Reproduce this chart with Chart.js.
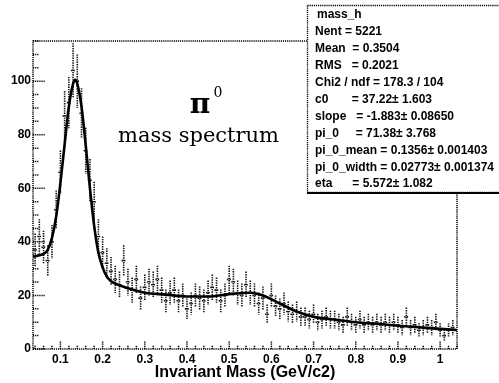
<!DOCTYPE html>
<html>
<head>
<script src="https://cdn.jsdelivr.net/npm/chart.js@4/dist/chart.umd.min.js"></script>
<style>
  html, body { margin: 0; padding: 0; background: #fff; }
  #wrap { width: 499px; height: 383px; }
</style>
</head>
<body>
<div id="wrap"><canvas id="c" width="499" height="383"></canvas></div>
<script>
// histogram bins (centre of each 0.01 bin) and their contents
const binCenters = [0.04,0.05,0.06,0.07,0.08,0.09,0.10,0.11,0.12,0.13,
  0.14,0.15,0.16,0.17,0.18,0.19,0.20,0.21,0.22,0.23,
  0.24,0.25,0.26,0.27,0.28,0.29,0.30,0.31,0.32,0.33,
  0.34,0.35,0.36,0.37,0.38,0.39,0.40,0.41,0.42,0.43,
  0.44,0.45,0.46,0.47,0.48,0.49,0.50,0.51,0.52,0.53,
  0.54,0.55,0.56,0.57,0.58,0.59,0.60,0.61,0.62,0.63,
  0.64,0.65,0.66,0.67,0.68,0.69,0.70,0.71,0.72,0.73,
  0.74,0.75,0.76,0.77,0.78,0.79,0.80,0.81,0.82,0.83,
  0.84,0.85,0.86,0.87,0.88,0.89,0.90,0.91,0.92,0.93,
  0.94,0.95,0.96,0.97,0.98,0.99,1.00,1.01,1.02,1.03];
const counts = [37,42,38,33,40,52,66,87,92,104,
  100,88,74,63,55,42,36,32,29,26,
  24,33,25,22,26,19,23,25,24,26,
  22,18,21,22,18,20,15,17,20,19,
  18,21,23,22,18,20,26,25,21,20,
  24,21,20,17,19,13,20,16,15,17,
  14,13,14,12,12,11,13,10,11,12,
  11,11,10,9,12,10,9,11,9,10,
  9,10,9,10,9,10,9,8,12,8,
  9,7,8,9,8,10,7,5,7,8];

// fitted curve
const fitX = [0.035,0.05,0.06,0.07,0.08,0.09,0.10,0.11,0.12,0.13,0.135,0.14,0.15,0.16,0.17,0.18,0.19,0.20,0.21,0.22,0.24,0.27,0.30,0.35,0.40,0.45,0.50,0.55,0.58,0.62,0.66,0.70,0.75,0.80,0.85,0.90,0.95,1.00,1.04];
const fitY = [34.5,35,35.5,37,41.5,49.5,62,76.5,90.5,99,100.5,99,90.5,76,60,46,36,30.5,27,25.3,23.8,22.2,21,20.3,19.6,19.6,20.5,21,20,17,14,12,11,10,9.4,8.7,8.1,7.5,7.1];

const xTicks = [0.1,0.2,0.3,0.4,0.5,0.6,0.7,0.8,0.9,1];
const yTicks = [0,20,40,60,80,100];

const statTitle = 'mass_h';
const statLines = [
  'Nent = 5221',
  'Mean  = 0.3504',
  'RMS   = 0.2021',
  'Chi2 / ndf = 178.3 / 104',
  'c0       = 37.22\u00b1 1.603',
  'slope   = -1.883\u00b1 0.08650',
  'pi_0     = 71.38\u00b1 3.768',
  'pi_0_mean = 0.1356\u00b1 0.001403',
  'pi_0_width = 0.02773\u00b1 0.001374',
  'eta      = 5.572\u00b1 1.082'
];

const X_MIN = 0.035, X_MAX = 1.04, Y_MIN = 0, Y_MAX = 115;

// frame, inside ticks and error bars
const rootFrame = {
  id: 'rootFrame',
  beforeDatasetsDraw(chart) {
    const { ctx, chartArea: a, scales: { x, y } } = chart;
    ctx.save();
    ctx.strokeStyle = '#000';
    ctx.lineWidth = 1.5;
    ctx.setLineDash([1.2, 0.9]);
    ctx.strokeRect(a.left, a.top, a.right - a.left, a.bottom - a.top);
    // x ticks (pointing up)
    ctx.beginPath();
    for (let v = 0.04; v <= X_MAX + 1e-9; v += 0.02) {
      const px = x.getPixelForValue(v);
      const major = Math.abs(v * 10 - Math.round(v * 10)) < 1e-6;
      ctx.moveTo(px, a.bottom);
      ctx.lineTo(px, a.bottom - (major ? 8 : 4));
    }
    // y ticks (pointing right)
    for (let v = 0; v <= Y_MAX + 1e-9; v += 5) {
      const py = y.getPixelForValue(v);
      const major = v % 20 === 0;
      ctx.moveTo(a.left, py);
      ctx.lineTo(a.left + (major ? 12 : 6), py);
    }
    ctx.stroke();

    // error bars of the histogram
    ctx.strokeStyle = '#111';
    ctx.lineWidth = 1.6;
    ctx.setLineDash([1.4, 1]);
    ctx.beginPath();
    binCenters.forEach((bx, i) => {
      const c = counts[i];
      const e = Math.sqrt(c);
      const px = x.getPixelForValue(bx);
      const py = y.getPixelForValue(c);
      ctx.moveTo(px, y.getPixelForValue(c + e));
      ctx.lineTo(px, y.getPixelForValue(Math.max(0, c - e)));
      ctx.moveTo(x.getPixelForValue(bx - 0.005), py);
      ctx.lineTo(x.getPixelForValue(bx + 0.005), py);
    });
    ctx.stroke();
    ctx.restore();
  },
  afterDraw(chart) {
    const { ctx } = chart;
    ctx.save();
    // annotation
    ctx.fillStyle = '#000';
    ctx.textAlign = 'center';
    ctx.textBaseline = 'alphabetic';
    ctx.font = 'bold 28px "DejaVu Serif"';
    ctx.fillText('\u03c0', 200, 113);
    ctx.font = '14px "DejaVu Serif"';
    ctx.fillText('0', 218, 97);
    ctx.font = '21px "DejaVu Serif"';
    ctx.textAlign = 'left';
    ctx.fillText('mass spectrum', 118, 142);

    // stats box
    const bx = 307, by = 5, bw = 200, bh = 187;
    ctx.fillStyle = '#fff';
    ctx.fillRect(bx, by, bw, bh);
    ctx.strokeStyle = '#000';
    ctx.lineWidth = 1.3;
    ctx.setLineDash([1.2, 0.9]);
    ctx.strokeRect(bx + 0.5, by + 0.5, bw, bh);
    ctx.setLineDash([]);
    ctx.lineWidth = 2;
    ctx.beginPath();
    ctx.moveTo(bx, by + bh + 1);
    ctx.lineTo(bx + bw, by + bh + 1);
    ctx.stroke();

    ctx.fillStyle = '#000';
    ctx.font = 'bold 12px "Liberation Sans"';
    ctx.textBaseline = 'middle';
    ctx.fillText(statTitle, 317, 15);
    statLines.forEach((s, i) => ctx.fillText(s, 315, 32 + i * 16.9));
    ctx.restore();
  }
};

new Chart(document.getElementById('c'), {
  type: 'line',
  data: {
    datasets: [
      {
        label: 'mass_h',
        data: binCenters.map((v, i) => ({ x: v, y: counts[i] })),
        showLine: false,
        pointRadius: 0,
        borderColor: '#111'
      },
      {
        label: 'fit',
        data: fitX.map((v, i) => ({ x: v, y: fitY[i] })),
        borderColor: '#000',
        borderWidth: 2.6,
        pointRadius: 0,
        cubicInterpolationMode: 'monotone',
        fill: false
      }
    ]
  },
  options: {
    responsive: false,
    animation: false,
    devicePixelRatio: 1,
    layout: { padding: { top: 41, right: 42, left: 0, bottom: 0 } },
    plugins: { legend: { display: false }, tooltip: { enabled: false } },
    scales: {
      x: {
        type: 'linear',
        min: X_MIN,
        max: X_MAX,
        grid: { display: false, drawTicks: false },
        border: { display: false },
        afterBuildTicks: s => { s.ticks = xTicks.map(v => ({ value: v })); },
        afterFit: s => { s.height = 34; },
        ticks: {
          padding: 3,
          maxRotation: 0,
          autoSkip: false,
          color: '#000',
          font: { family: 'Liberation Sans', size: 12, weight: 'bold' },
          callback: v => (v === 1 ? '1' : v.toFixed(1))
        },
        title: {
          display: true,
          text: 'Invariant Mass (GeV/c2)',
          color: '#000',
          padding: { top: 0, bottom: 1 },
          font: { family: 'Liberation Sans', size: 16, weight: 'bold' }
        }
      },
      y: {
        min: Y_MIN,
        max: Y_MAX,
        grid: { display: false, drawTicks: false },
        border: { display: false },
        afterBuildTicks: s => { s.ticks = yTicks.map(v => ({ value: v })); },
        afterFit: s => { s.width = 33; },
        ticks: {
          padding: 2,
          color: '#000',
          font: { family: 'Liberation Sans', size: 12, weight: 'bold' }
        }
      }
    }
  },
  plugins: [rootFrame]
});
</script>
</body>
</html>
